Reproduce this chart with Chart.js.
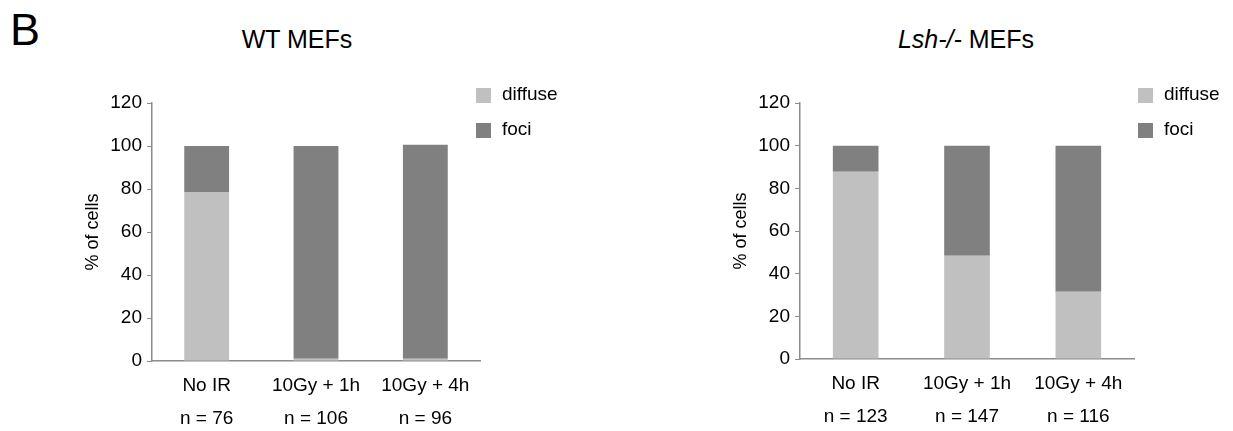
<!DOCTYPE html>
<html>
<head>
<meta charset="utf-8">
<script src="https://cdn.jsdelivr.net/npm/chart.js@4"></script>
<style>
  body { margin: 0; background: #fff; font-family: "Liberation Sans", Arial, sans-serif; }
  #wrap { position: relative; width: 1233px; height: 431px; overflow: hidden; }
  .ttl { position: absolute; top: 25px; font-size: 25px; color: #000; white-space: nowrap; transform: translateX(-50%); }
  #panel { position: absolute; left: 10px; top: 4px; font-size: 45px; color: #000; }
  canvas { position: absolute; top: 0; }
</style>
</head>
<body>
<div id="wrap">
  <div id="panel">B</div>
  <div class="ttl" style="left:297px">WT MEFs</div>
  <div class="ttl" style="left:966px"><i>Lsh-/-</i> MEFs</div>
  <canvas id="grafikWT" width="616" height="431" style="left:0"></canvas>
  <canvas id="grafikLsh" width="617" height="431" style="left:616px"></canvas>
</div>
<script>
  var kategori = ["No IR", "10Gy + 1h", "10Gy + 4h"];
  var nWT = ["n = 76", "n = 106", "n = 96"];
  var nLsh = ["n = 123", "n = 147", "n = 116"];

  var diffuseWT = [78.4, 1.0, 1.0];
  var fociWT = [21.6, 99.0, 99.6];
  var diffuseLsh = [87.8, 48.4, 31.5];
  var fociLsh = [12.2, 51.6, 68.5];

  var yTicks = [0, 20, 40, 60, 80, 100, 120];

  var huruf = '"Liberation Sans", Arial, sans-serif';

  // legend kecil di kanan grafik
  var legendaSamping = {
    id: "legendaSamping",
    afterDraw: function(chart, args, opts) {
      var ctx = chart.ctx;
      ctx.save();
      chart.data.datasets.forEach(function(ds, i) {
        var y = 95 + i * 35;
        ctx.fillStyle = ds.backgroundColor;
        ctx.fillRect(opts.x, y - 7, 15, 15);
        ctx.fillStyle = "#000";
        ctx.font = "19px " + huruf;
        ctx.textBaseline = "middle";
        ctx.fillText(ds.label, opts.x + 26, y);
      });
      ctx.restore();
    }
  };

  function buatGrafik(id, diffuse, foci, nLabel, pad, legendX) {
    var labels = kategori.map(function(k, i) { return [k, nLabel[i]]; });
    var ctx = document.getElementById(id).getContext("2d");
    return new Chart(ctx, {
      type: "bar",
      data: {
        labels: labels,
        datasets: [
          { label: "diffuse", data: diffuse, backgroundColor: "#c0c0c0" },
          { label: "foci", data: foci, backgroundColor: "#808080" }
        ]
      },
      options: {
        responsive: false,
        animation: false,
        devicePixelRatio: 1,
        categoryPercentage: 1,
        barPercentage: 0.41,
        layout: { padding: { left: pad.left, right: pad.right, top: 103, bottom: 0 } },
        plugins: {
          legend: { display: false },
          tooltip: { enabled: false },
          legendaSamping: { x: legendX }
        },
        scales: {
          x: {
            stacked: true,
            grid: { display: false, drawTicks: false },
            border: { display: true, color: "#8c8c8c", width: 1.5 },
            ticks: {
              color: "#000",
              padding: 8,
              maxRotation: 0,
              font: { family: huruf, size: 19, lineHeight: 1.74 }
            },
            afterFit: function(s) { s.height = 431 - 103 - pad.plotH; }
          },
          y: {
            stacked: true,
            min: 0,
            max: 120,
            afterBuildTicks: function(s) { s.ticks = yTicks.map(function(v) { return { value: v }; }); },
            grid: { drawOnChartArea: false, drawTicks: true, tickLength: 5, color: "#8c8c8c" },
            border: { display: true, color: "#8c8c8c", width: 1.5 },
            ticks: { color: "#000", padding: 5, font: { family: huruf, size: 19 } },
            title: {
              display: true,
              text: "% of cells",
              color: "#000",
              padding: 0,
              font: { family: huruf, size: 18 }
            },
            afterFit: function(s) { s.width = 70; }
          }
        }
      },
      plugins: [legendaSamping]
    });
  }

  buatGrafik("grafikWT", diffuseWT, fociWT, nWT, { left: 82, right: 136, plotH: 258 }, 476);
  buatGrafik("grafikLsh", diffuseLsh, fociLsh, nLsh, { left: 114, right: 99, plotH: 256 }, 522);
</script>
</body>
</html>
